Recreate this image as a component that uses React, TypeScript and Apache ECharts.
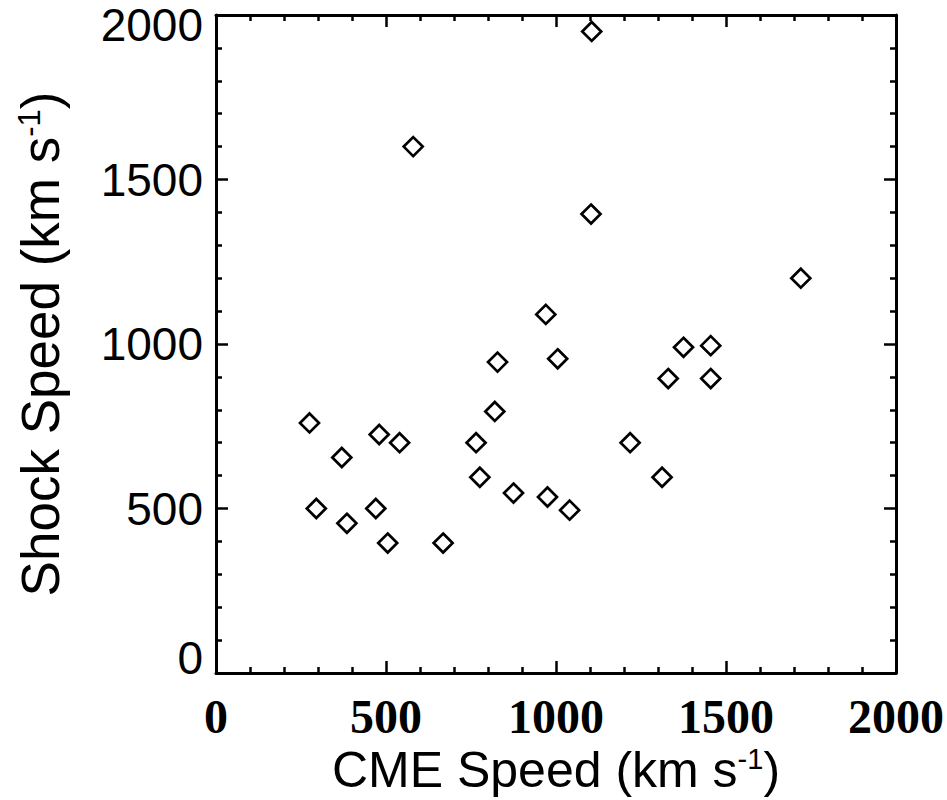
import React, { useEffect, useRef } from 'react';
import * as echarts from 'echarts';

const cmeSpeed = [275, 370, 480, 540, 295, 385, 470, 505, 668, 820, 765, 776, 875, 975, 1005, 970, 828, 1375, 1455, 1330, 1455, 1218, 1312, 1040, 1105, 1103, 580, 1720];
const shockSpeed = [760, 655, 725, 700, 500, 455, 500, 395, 395, 795, 700, 595, 547, 535, 955, 1090, 945, 990, 995, 895, 895, 700, 595, 495, 1950, 1395, 1600, 1200];
const axisMin = 0;
const axisMax = 2000;
const axisStep = 500;

export default function App() {
  const ref = useRef<HTMLDivElement>(null);
  useEffect(() => {
    document.body.style.margin = '0';
    const chart = echarts.init(ref.current!, null, { renderer: 'svg' });
    const sans = '"Liberation Sans", Arial, sans-serif';
    const serif = '"Liberation Serif", "Times New Roman", serif';
    const common: any = {
      type: 'value',
      min: axisMin,
      max: axisMax,
      interval: axisStep,
      axisLine: { show: true, onZero: false, lineStyle: { color: '#000', width: 3 } },
      axisTick: { show: true, inside: true, length: 12, lineStyle: { color: '#000', width: 2.5 } },
      minorTick: { show: true, splitNumber: 5, length: 6, lineStyle: { color: '#000', width: 2.5 } },
      splitLine: { show: false },
      minorSplitLine: { show: false },
    };
    const supStyle = { fontFamily: sans, fontSize: 29, color: '#000', verticalAlign: 'top' as const };
    const yl = { fontFamily: sans, fontSize: 46, color: '#000' };
    chart.setOption({
      animation: false,
      grid: { left: 216, top: 15, width: 680, height: 658, containLabel: false, outerBoundsMode: 'none' },
      xAxis: [
        {
          ...common,
          position: 'bottom',
          axisLabel: {
            fontFamily: serif,
            fontWeight: 'bold',
            fontSize: 48,
            color: '#000',
            margin: 19,
            formatter: (v: number) => String(v),
          },
          name: 'CME Speed (km s{sup|-1})',
          nameLocation: 'middle',
          nameGap: 67,
          nameTextStyle: { fontFamily: sans, fontSize: 50, color: '#000', rich: { sup: supStyle } },
        },
        { ...common, position: 'top', axisLabel: { show: false } },
      ],
      yAxis: [
        {
          ...common,
          position: 'left',
          axisLabel: {
            margin: 13,
            ...yl,
            formatter: (v: number) =>
              v === axisMax ? `{t|${v}}` : v === axisMin ? `{b|${v}}` : `{n|${v}}`,
            rich: {
              t: { ...yl, padding: [20, 0, 0, 0] },
              b: { ...yl, padding: [0, 0, 30, 0] },
              n: { ...yl },
            },
          },
          name: 'Shock Speed (km s{sup|-1})',
          nameLocation: 'middle',
          nameGap: 149,
          nameTextStyle: { fontFamily: sans, fontSize: 53, color: '#000', rich: { sup: { ...supStyle, fontSize: 31 } } },
        },
        { ...common, position: 'right', axisLabel: { show: false } },
      ],
      series: [
        {
          type: 'scatter',
          symbol: 'diamond',
          symbolSize: 19,
          itemStyle: { color: 'rgba(255,255,255,0)', borderColor: '#000', borderWidth: 2.7, opacity: 1 },
          data: cmeSpeed.map((x, i) => [x, shockSpeed[i]]),
        },
      ],
    });
    return () => chart.dispose();
  }, []);
  return <div ref={ref} style={{ width: 947, height: 800 }} />;
}
